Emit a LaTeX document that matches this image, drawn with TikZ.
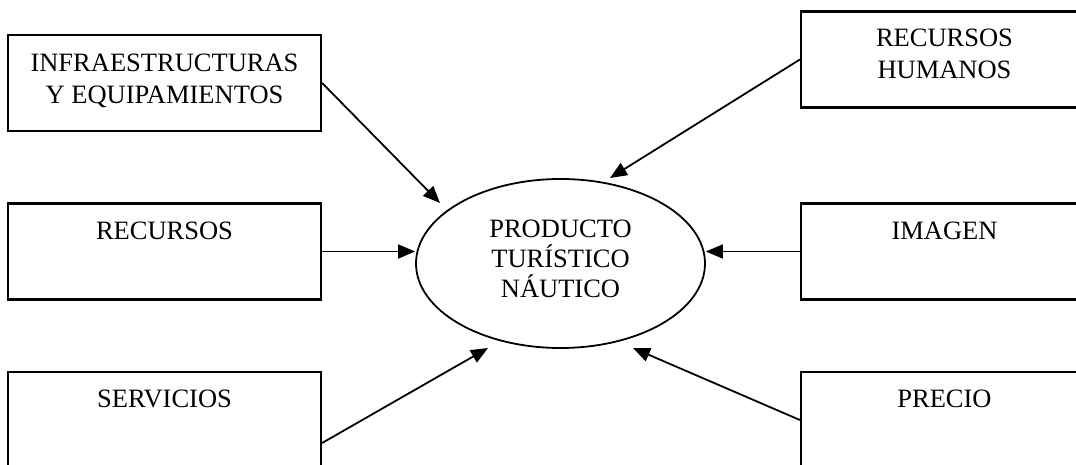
\documentclass[tikz,border=0pt]{standalone}
\usepackage{fontspec}
\setmainfont{Liberation Serif}
\usetikzlibrary{arrows.meta,shapes.geometric}

\begin{document}
\begin{tikzpicture}[x=1pt,y=1pt]
		% Define styles for boxes, texts and arrows
		\tikzset{
			box/.style={draw, line width=2.2pt, minimum width=313pt, minimum height=96pt, inner sep=0pt},
			boxtext/.style={anchor=north, inner sep=0pt, align=center, font=\fontsize{26.5}{32}\selectfont},
			arr/.style={-{Triangle[length=17pt,width=14pt]}, line width=1.8pt}
		}
		\useasboundingbox (0,0) rectangle (1076,464);
		\clip (0,0) rectangle (1076,464);
		
		% Draw the boxes on the left
		\node[box] (infra) at (164.5,381) {};
		\node[box] (recur) at (164.5,212.5) {};
		\node[box] (serv) at (164.5,44) {};
		
		% Draw the boxes on the right
		\node[box, minimum width=287pt] (rhum) at (944.5,404.5) {};
		\node[box, minimum width=287pt] (imag) at (944.5,212.5) {};
		\node[box, minimum width=287pt] (prec) at (944.5,44) {};
		
		% Draw the ellipse in the middle
		\node[draw, ellipse, line width=1.8pt, minimum width=289pt, minimum height=169pt, inner sep=0pt] (prod) at (560.5,200.5) {};
		
		% Add the texts
		\node[boxtext] (infratxt) at ([yshift=-20pt]infra.north) {INFRAESTRUCTURAS\\Y EQUIPAMIENTOS};
		\node[boxtext] (recurtxt) at ([yshift=-19pt]recur.north) {RECURSOS};
		\node[boxtext] (servtxt) at ([yshift=-19pt]serv.north) {SERVICIOS};
		\node[boxtext] (rhumtxt) at ([yshift=-18pt]rhum.north) {RECURSOS\\HUMANOS};
		\node[boxtext] (imagtxt) at ([yshift=-19pt]imag.north) {IMAGEN};
		\node[boxtext] (prectxt) at ([yshift=-19pt]prec.north) {PRECIO};
		\node[boxtext, font=\fontsize{26.5}{30}\selectfont] (prodtxt) at (560.5,244) {PRODUCTO\\TURÍSTICO\\NÁUTICO};
		
		% Arrow end points
		\coordinate (tinfra) at (440,261);
		\coordinate (tserv) at (488,116);
		\coordinate (trhum) at (610,286);
		\coordinate (tprec) at (633,116);
		
		% Draw the arrows
		\draw[arr] (infra.east) -- (tinfra);
		\draw[arr] (recur.east) -- (recur.east -| prod.west);
		\draw[arr] ([yshift=-23pt]serv.east) -- (tserv);
		\draw[arr] (rhum.west) -- (trhum);
		\draw[arr] (imag.west) -- (imag.west -| prod.east);
		\draw[arr] (prec.west) -- (tprec);
	\end{tikzpicture}
\end{document}
